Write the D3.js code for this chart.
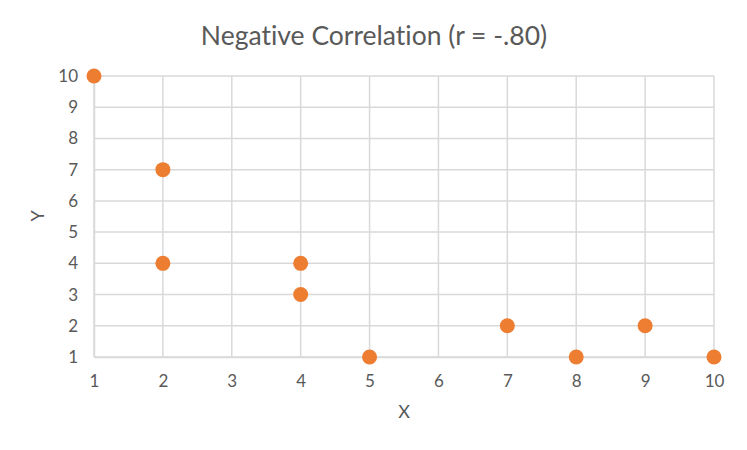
<!DOCTYPE html>
<html><head><meta charset="utf-8">
<script src="https://cdn.jsdelivr.net/npm/d3@7"></script>
<style>body{margin:0;background:#fff}svg{display:block}text{font-variant-ligatures:none}</style>
</head><body><svg id="c" width="747" height="450"></svg>
<script>
const xValues = [1, 2, 2, 4, 4, 5, 7, 8, 9, 10];
const yValues = [10, 7, 4, 4, 3, 1, 2, 1, 2, 1];
const xTicks = [1,2,3,4,5,6,7,8,9,10];
const yTicks = [1,2,3,4,5,6,7,8,9,10];
const title = "Negative Correlation (r = -.80)";

const svg = d3.select("#c");
const font = "Lato, 'Open Sans', sans-serif";
const L=94, R=714, T=76, B=357;
const x = d3.scaleLinear().domain([1,10]).range([L,R]);
const y = d3.scaleLinear().domain([1,10]).range([B,T]);
const grid = "#d9d9d9";

svg.append("g").selectAll("line").data(xTicks).join("line")
  .attr("x1",d=>x(d)).attr("x2",d=>x(d)).attr("y1",T).attr("y2",B)
  .attr("stroke",grid).attr("stroke-width",1.5);
svg.append("g").selectAll("line").data(yTicks).join("line")
  .attr("y1",d=>y(d)).attr("y2",d=>y(d)).attr("x1",L).attr("x2",R)
  .attr("stroke",grid).attr("stroke-width",1.5);

const xa = svg.append("g").attr("transform",`translate(0,${B})`)
  .call(d3.axisBottom(x).tickValues(xTicks).tickSize(0).tickPadding(18).tickFormat(d3.format("d")));
xa.select(".domain").attr("stroke",grid).attr("stroke-width",1.5);
const ya = svg.append("g").attr("transform",`translate(${L},0)`)
  .call(d3.axisLeft(y).tickValues(yTicks).tickSize(0).tickPadding(16).tickFormat(d3.format("d")));
ya.select(".domain").attr("stroke",grid).attr("stroke-width",1.5);
xa.attr("font-size",null).attr("font-family",null);
ya.attr("font-size",null).attr("font-family",null);
svg.selectAll(".tick text").style("font-family",font).style("font-size","17px").attr("fill","#595959");

svg.append("g").selectAll("circle").data(xValues.map((v,i)=>[v,yValues[i]])).join("circle")
  .attr("cx",d=>x(d[0])).attr("cy",d=>y(d[1])).attr("r",7.5).attr("fill","#ED7D31");

svg.append("text").attr("x",374).attr("y",45).attr("text-anchor","middle")
  .attr("font-family",font).attr("font-size",26.5).attr("fill","#595959").text(title);
svg.append("text").attr("x",404).attr("y",418).attr("text-anchor","middle")
  .attr("font-family",font).attr("font-size",18).attr("fill","#595959").text("X");
svg.append("text").attr("transform","translate(44,216) rotate(-90)").attr("text-anchor","middle")
  .attr("font-family",font).attr("font-size",18).attr("fill","#595959").text("Y");
</script></body></html>
